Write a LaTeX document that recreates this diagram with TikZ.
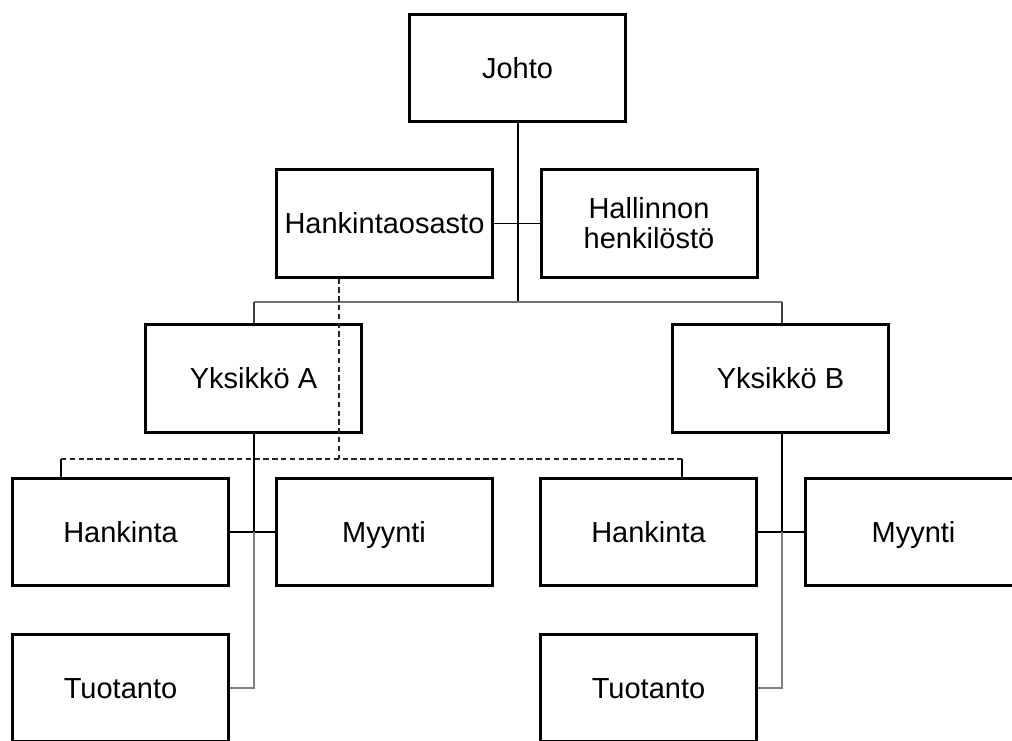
\documentclass[tikz,border=0pt]{standalone}
\usepackage{fontspec}
\setmainfont{Liberation Sans}
\begin{document}
\begin{tikzpicture}[x=0.75pt,y=-0.75pt,
  unitbox/.style={draw=black, line width=2.25pt, fill=white,
    minimum width=162pt, minimum height=80.5pt, inner sep=0pt,
    align=center, font=\fontsize{21.75}{22.5}\selectfont},
  unit/.style={unitbox, text height=15.6pt, text depth=0pt},
  link/.style={line width=1pt, draw=black},
  barline/.style={line width=1.4pt, draw=black!55},
  dropline/.style={line width=1.1pt, draw=black!75},
  lowline/.style={line width=1.2pt, draw=black!50},
  staffline/.style={line width=1pt, draw=black!85, dash pattern=on 4pt off 2.6pt}]
\useasboundingbox (0,0) rectangle (1012,740);
\clip (0,0) rectangle (1012,740);

% organisation units
\node[unit] (johto) at (517.5,68) {Johto};
\node[unit] (hko) at (384.5,223.5) {Hankintaosasto};
\node[unitbox] (hal) at (649,223.5) {Hallinnon\\henkilöstö};
\node[unit] (ya) at (253.5,378.5) {Yksikkö A};
\node[unit] (yb) at (780.5,378.5) {Yksikkö B};
\node[unit] (hka) at (120.5,532) {Hankinta};
\node[unit] (mya) at (384,532) {Myynti};
\node[unit] (hkb) at (648.5,532) {Hankinta};
\node[unit] (myb) at (913.5,532) {Myynti};
\node[unit] (tua) at (120.5,688) {Tuotanto};
\node[unit] (tub) at (648.5,688) {Tuotanto};

% junction points
\coordinate (barM) at (518,302);
\coordinate (barL) at (254,302);
\coordinate (barR) at (782,302);
\coordinate (dm) at (339,459);
\coordinate (dl) at (61,459);
\coordinate (dr) at (682,459);

% line organisation
\draw[link] (barM |- johto.south) -- (barM);
\draw[link] (hko.east) -- (hal.west);
\draw[barline] (barL) -- (barR);
\draw[dropline] (barL) -- (barL |- ya.north);
\draw[dropline] (barR) -- (barR |- yb.north);

% unit A
\draw[link] (barL |- ya.south) -- (barL |- hka.east);
\draw[link] (hka.east) -- (mya.west);
\draw[lowline] (barL |- hka.east) -- (barL |- tua.east) -- (tua.east);

% unit B
\draw[link] (barR |- yb.south) -- (barR |- hkb.east);
\draw[link] (hkb.east) -- (myb.west);
\draw[lowline] (barR |- hkb.east) -- (barR |- tub.east) -- (tub.east);

% staff link from the purchasing department
\draw[staffline] (dm |- hko.south) -- (dm);
\draw[staffline] (dl) -- (dr);
\draw[link] (dl) -- (dl |- hka.north);
\draw[link] (dr) -- (dr |- hkb.north);
\end{tikzpicture}
\end{document}
